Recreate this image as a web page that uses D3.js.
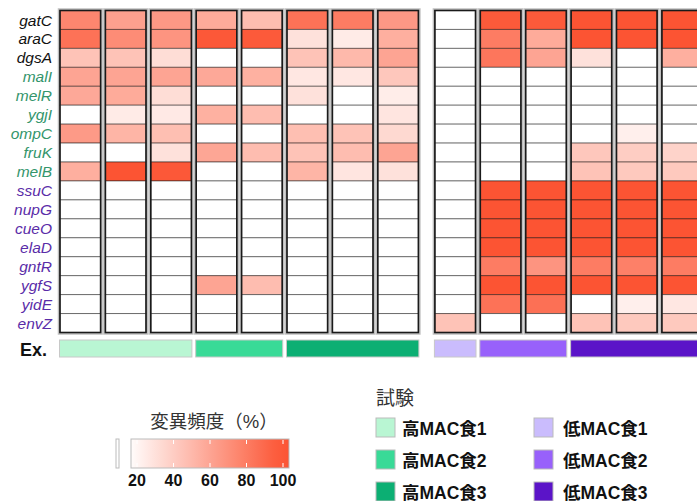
<!DOCTYPE html>
<html>
<head>
<meta charset="UTF-8">
<script src="https://d3js.org/d3.v7.min.js"></script>
<style>
  body { margin: 0; background: #fff; font-family: "Liberation Sans", Arial, "Noto Sans CJK JP", sans-serif; }
</style>
</head>
<body>
<svg id="chart" width="697" height="501"></svg>
<script>
// genes (rows) and which group each label belongs to
const genes = ["gatC","araC","dgsA","malI","melR","ygjI","ompC","fruK","melB",
               "ssuC","nupG","cueO","elaD","gntR","ygfS","yidE","envZ"];
const geneGroup = ["none","none","none","high","high","high","high","high","high",
                   "low","low","low","low","low","low","low","low"];

// experiment groups
const groups = ["高MAC食1","高MAC食2","高MAC食3","低MAC食1","低MAC食2","低MAC食3"];

// mutation frequency (%) per sample column, one array per group, rows in gene order
const highMAC1 = [
  [75,85,45,60,58,0,65,0,55, 0,0,0,0,0,0,0,0],
  [62,72,45,60,57,25,52,0,100, 0,0,0,0,0,0,0,0],
  [66,68,32,60,32,26,47,30,98, 0,0,0,0,0,0,0,0]
];
const highMAC2 = [
  [57,98,0,58,0,54,0,59,0, 0,0,0,0,0,60,0,0],
  [48,97,0,54,0,48,0,48,0, 0,0,0,0,0,48,0,0]
];
const highMAC3 = [
  [85,30,45,27,30,0,47,45,52, 0,0,0,0,0,0,0,0],
  [80,25,50,27,0,0,45,48,28, 0,0,0,0,0,0,0,0],
  [66,55,60,43,24,28,34,60,30, 0,0,0,0,0,0,0,0]
];
const lowMAC1 = [
  [0,0,0,0,0,0,0,0,0, 0,0,0,0,0,0,0,45]
];
const lowMAC2 = [
  [97,80,83,0,0,0,0,0,0, 100,100,100,100,80,100,85,0],
  [97,57,60,0,0,0,0,0,0, 100,100,100,100,68,100,86,0]
];
const lowMAC3 = [
  [100,100,30,0,0,0,0,43,45, 100,100,100,100,80,100,0,45],
  [100,100,0,0,0,0,23,40,42, 100,100,100,100,78,100,23,42],
  [100,100,55,0,0,0,0,37,42, 100,100,100,100,80,100,27,42]
];
const groupData = [highMAC1, highMAC2, highMAC3, lowMAC1, lowMAC2, lowMAC3];

const legendTicks = [20, 40, 60, 80, 100];

const groupColors = ["#b9f6d3","#39da97","#0caf73","#cabcfd","#9861fb","#5b14c8"];
const labelColors = {none: "#111", high: "#33956b", low: "#5a2ca8"};

const svg = d3.select("#chart");

// flatten columns
const columns = [];
groupData.forEach((g, gi) => g.forEach(vals => columns.push({group: gi, vals: vals})));

const step = 45.4, cw = 40.6, blockGap = 11.7;
const colX = i => 60 + i * step + (columns[i].group >= 3 ? blockGap : 0);

const y = d3.scaleBand().domain(genes).range([10.5, 332.5]).paddingInner(0);

const color = d3.scaleLinear().domain([15, 100]).range(["#ffffff", "#fc5433"]).clamp(true);
const fill = v => v <= 0 ? "#ffffff" : color(v);

// row labels
svg.append("g").selectAll("text")
  .data(genes)
  .join("text")
  .attr("x", 52)
  .attr("y", d => y(d) + y.bandwidth() / 2)
  .attr("dy", "0.36em")
  .attr("text-anchor", "end")
  .style("font-style", "italic")
  .style("font-size", "15.5px")
  .style("fill", (d, i) => labelColors[geneGroup[i]])
  .text(d => d);

// heatmap columns
const colG = svg.append("g").selectAll("g")
  .data(columns)
  .join("g")
  .attr("transform", (d, i) => `translate(${colX(i)},0)`);

// soft shadow around column
colG.append("rect")
  .attr("x", -0.5).attr("y", y.range()[0] - 0.5)
  .attr("width", cw + 1).attr("height", y.range()[1] - y.range()[0] + 1)
  .attr("fill", "none")
  .attr("stroke", "rgba(0,0,0,0.25)")
  .attr("stroke-width", 3.5);

colG.selectAll("rect.cell")
  .data(d => d.vals.map((v, r) => ({v: v, gene: genes[r]})))
  .join("rect")
  .attr("class", "cell")
  .attr("x", 0)
  .attr("y", d => y(d.gene))
  .attr("width", cw)
  .attr("height", y.bandwidth())
  .attr("fill", d => fill(d.v))
  .attr("stroke", "rgba(0,0,0,0.45)")
  .attr("stroke-width", 1);

colG.append("rect")
  .attr("x", 0).attr("y", y.range()[0])
  .attr("width", cw).attr("height", y.range()[1] - y.range()[0])
  .attr("fill", "none")
  .attr("stroke", "#1a1a1a")
  .attr("stroke-width", 1.6);

// Ex. annotation bar
svg.append("text")
  .attr("x", 20).attr("y", 356)
  .style("font-weight", "bold").style("font-size", "18px")
  .style("fill", "#111")
  .text("Ex.");

const groupSpans = groups.map((g, gi) => {
  const idx = columns.map((c, i) => c.group === gi ? i : -1).filter(i => i >= 0);
  return {gi: gi, x0: colX(idx[0]) - 0.5, x1: colX(idx[idx.length - 1]) + cw + 0.5};
});

svg.append("g").selectAll("rect")
  .data(groupSpans)
  .join("rect")
  .attr("x", d => d.x0)
  .attr("y", 340)
  .attr("width", d => d.x1 - d.x0)
  .attr("height", 17)
  .attr("fill", d => groupColors[d.gi])
  .attr("stroke", "#c8c8c8")
  .attr("stroke-width", 1);

// colour legend
const lg = svg.append("g");
lg.append("text")
  .attr("x", 214).attr("y", 428)
  .attr("text-anchor", "middle")
  .style("font-size", "18.5px").style("fill", "#333")
  .text("変異頻度（%）");

const grad = svg.append("defs").append("linearGradient")
  .attr("id", "freqGrad").attr("x1", "0%").attr("x2", "100%");
const lx = d3.scaleLinear().domain([20, 100]).range([137, 283]);
const barX0 = 131, barX1 = 289;
d3.range(0, 11).forEach(k => {
  const px = barX0 + (barX1 - barX0) * k / 10;
  grad.append("stop")
    .attr("offset", (k * 10) + "%")
    .attr("stop-color", color(lx.invert(px)));
});

lg.append("rect")
  .attr("x", 116).attr("y", 439).attr("width", 3).attr("height", 29)
  .attr("fill", "#fff").attr("stroke", "#bbb");

lg.append("rect")
  .attr("x", barX0).attr("y", 439).attr("width", barX1 - barX0).attr("height", 29)
  .attr("fill", "url(#freqGrad)").attr("stroke", "#bbb");

lg.selectAll("line.tt")
  .data(legendTicks)
  .join("line")
  .attr("class", "tt")
  .attr("x1", d => lx(d)).attr("x2", d => lx(d))
  .attr("y1", 440).attr("y2", 444)
  .attr("stroke", "#fff").attr("stroke-width", 1);
lg.selectAll("line.tb")
  .data(legendTicks)
  .join("line")
  .attr("class", "tb")
  .attr("x1", d => lx(d)).attr("x2", d => lx(d))
  .attr("y1", 463).attr("y2", 467)
  .attr("stroke", "#fff").attr("stroke-width", 1);

lg.selectAll("text.tick")
  .data(legendTicks)
  .join("text")
  .attr("class", "tick")
  .attr("x", d => lx(d))
  .attr("y", 486)
  .attr("text-anchor", "middle")
  .style("font-weight", "bold").style("font-size", "16px")
  .style("fill", "#111")
  .text(d => d);

// experiment legend
const eg = svg.append("g");
eg.append("text")
  .attr("x", 376).attr("y", 405)
  .style("font-size", "19px").style("fill", "#333")
  .text("試験");

const items = eg.selectAll("g.item")
  .data(groups)
  .join("g")
  .attr("class", "item")
  .attr("transform", (d, i) => `translate(${i < 3 ? 376 : 534},${418 + (i % 3) * 32})`);

items.append("rect")
  .attr("width", 19).attr("height", 19)
  .attr("fill", (d, i) => groupColors[i])
  .attr("stroke", "#bbb");

items.append("text")
  .attr("x", (d, i) => i < 3 ? 26 : 29)
  .attr("y", 16.5)
  .style("font-weight", "bold").style("font-size", "17.5px")
  .style("fill", "#111")
  .text(d => d);
</script>
</body>
</html>
